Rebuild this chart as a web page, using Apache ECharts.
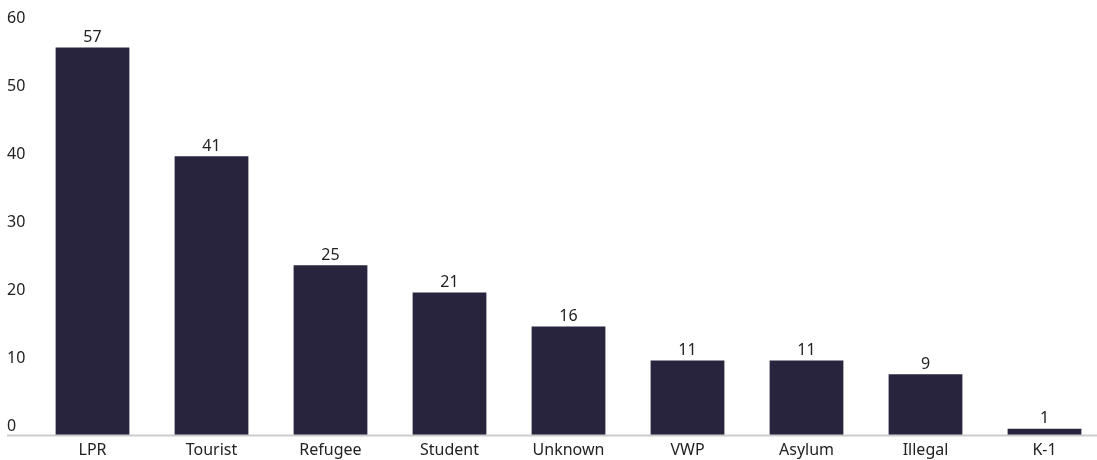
<!DOCTYPE html>
<html><head><meta charset="utf-8">
<script src="https://cdn.jsdelivr.net/npm/echarts@6/dist/echarts.min.js"></script>
<style>html,body{margin:0;padding:0;background:#fff;overflow:hidden}#c{width:1104px;height:460px}</style>
</head><body><div id="c"></div>
<script>
const categories = ['LPR','Tourist','Refugee','Student','Unknown','VWP','Asylum','Illegal','K-1'];
const values = [57,41,25,21,16,11,11,9,1];
const yTicks = [0,10,20,30,40,50,60];

const chart = echarts.init(document.getElementById('c'));
const font = 'Noto Sans';
chart.setOption({
  animation:false,
  grid:{left:33,right:0,top:27,bottom:24.5},
  xAxis:{type:'category',data:categories,
    axisLine:{show:false},axisTick:{show:false},
    axisLabel:{color:'#222',fontFamily:font,fontSize:16,margin:7}},
  yAxis:{type:'value',min:yTicks[0],max:yTicks[yTicks.length-1],interval:10,
    splitLine:{show:false},axisLine:{show:false},axisTick:{show:false},
    axisLabel:{color:'#222',fontFamily:font,fontSize:16,align:'left',margin:26,verticalAlign:'bottom',padding:[0,0,1,0]}},
  series:[{type:'bar',data:values,barWidth:'62%',
    itemStyle:{color:'#29243d'},
    label:{show:true,position:'top',distance:2,color:'#222',fontFamily:font,fontSize:16}}]
});
const y0 = chart.convertToPixel({yAxisIndex:0},0);
chart.setOption({graphic:[{type:'line',shape:{x1:7,y1:y0,x2:1097,y2:y0},style:{stroke:'#cccccc',lineWidth:2},z:10}]});
</script></body></html>
